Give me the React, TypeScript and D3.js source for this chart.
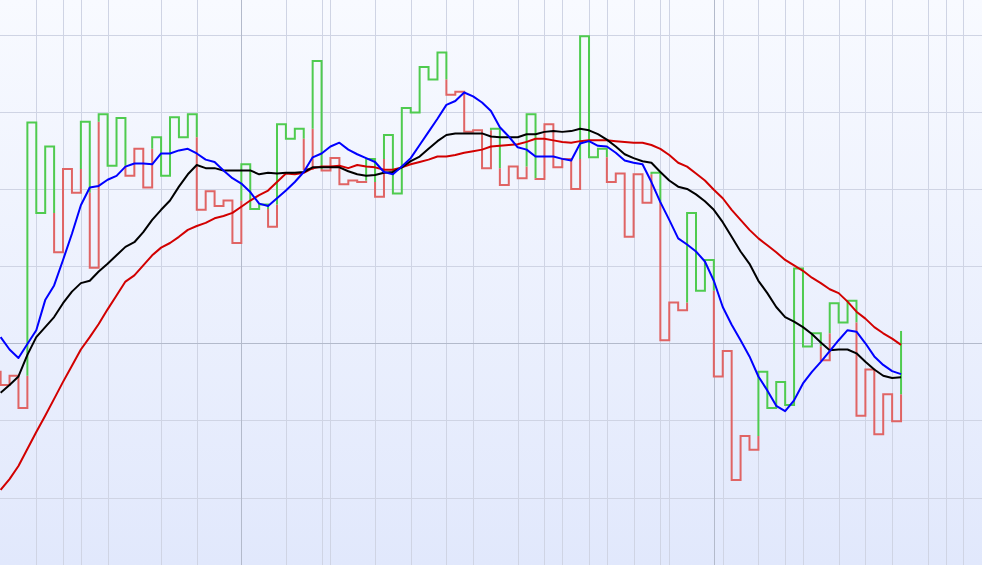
import React, { useMemo } from 'react';
import * as d3 from 'd3';

const WIDTH = 982;
const HEIGHT = 565;

// Kagi reversal levels, one per column (index 0..101); kagiStart is the level before column 0
const kagiStart = 96.3;
const kagiLevels = [
  94.6, 95.8, 91.6, 128.6, 116.9, 125.5, 111.8, 122.6, 119.5, 128.7,
  109.8, 129.7, 123.0, 129.2, 121.7, 125.2, 120.2, 126.7, 121.7, 129.3,
  126.7, 129.7, 117.3, 119.7, 117.8, 118.5, 113.0, 123.2, 117.4, 118.0,
  115.1, 128.4, 126.5, 127.8, 122.6, 136.6, 122.4, 124.0, 120.6, 121.1,
  120.9, 123.9, 119.0, 127.0, 119.4, 130.5, 129.9, 135.8, 134.2, 137.7,
  132.2, 132.6, 127.4, 127.6, 122.7, 127.8, 120.5, 122.9, 121.4, 129.7,
  121.3, 128.4, 122.8, 123.9, 120.0, 139.8, 124.1, 125.2, 120.9, 122.0,
  113.8, 121.9, 118.2, 122.1, 100.4, 105.3, 104.3, 116.9, 106.8, 110.8,
  95.7, 99.0, 82.3, 88.0, 86.2, 96.3, 91.6, 95.0, 92.0, 109.7,
  99.6, 101.3, 97.8, 105.2, 102.7, 105.5, 90.6, 96.6, 88.2, 93.4,
  89.9, 101.6,
];

// moving averages (blue = fast, black = mid, red = slow)
const maFast = [
  100.8, 99.2, 98.1, 99.9, 101.7, 105.6, 107.5, 110.8, 114.2, 117.9,
  120.2, 120.4, 121.2, 121.7, 122.9, 123.3, 123.3, 123.2, 124.6, 124.6,
  125.0, 125.2, 124.6, 123.8, 123.5, 122.4, 121.4, 120.7, 119.6, 118.1,
  117.8, 118.8, 119.8, 120.9, 122.2, 124.1, 124.6, 125.5, 126.0, 125.1,
  124.5, 124.0, 123.5, 122.2, 121.9, 122.9, 124.0, 125.7, 127.4, 129.1,
  130.9, 131.4, 132.5, 132.0, 131.2, 130.1, 128.0, 126.8, 125.4, 125.1,
  124.2, 124.2, 124.2, 123.9, 123.7, 125.9, 126.2, 125.6, 125.5, 124.7,
  123.7, 123.4, 123.2, 120.9, 118.3, 116.0, 113.6, 112.8, 111.9, 110.6,
  108.1, 104.7, 102.4, 100.4, 98.3, 95.7, 93.9, 91.9, 91.2, 92.6,
  94.8, 96.3, 97.6, 99.0, 100.4, 101.7, 101.5, 100.0, 98.3, 97.2,
  96.4, 96.0,
];
const maMid = [
  93.6, 94.6, 95.7, 98.5, 100.8, 102.1, 103.4, 105.2, 106.7, 107.8,
  108.1, 109.3, 110.3, 111.4, 112.5, 113.1, 114.4, 116.0, 117.3, 118.5,
  120.3, 121.9, 123.1, 122.7, 122.7, 122.4, 122.4, 122.4, 122.4, 121.9,
  122.1, 122.0, 122.1, 122.1, 122.2, 122.8, 122.8, 122.8, 122.8, 122.3,
  121.9, 121.7, 121.8, 122.1, 122.2, 122.8, 123.6, 124.2, 125.2, 126.2,
  127.0, 127.2, 127.2, 127.2, 127.2, 126.8, 126.7, 126.7, 126.7, 127.1,
  127.1, 127.4, 127.5, 127.4, 127.5, 127.8, 127.6, 127.1, 126.4, 125.5,
  124.5, 124.0, 123.6, 123.4, 122.2, 121.1, 120.3, 120.0, 119.3, 118.4,
  117.3, 115.7, 113.8, 111.9, 110.3, 108.1, 106.5, 104.7, 103.4, 102.8,
  102.1, 101.2, 100.1, 99.1, 99.2, 99.2, 98.7, 97.6, 96.6, 95.8,
  95.5, 95.6,
];
const maSlow = [
  81.0, 82.4, 84.1, 86.3, 88.5, 90.6, 92.8, 95.0, 97.1, 99.2,
  100.8, 102.5, 104.4, 106.2, 108.0, 108.8, 110.1, 111.4, 112.4, 113.0,
  113.8, 114.7, 115.2, 115.6, 116.2, 116.5, 116.9, 117.7, 118.5, 119.2,
  119.8, 120.9, 122.0, 121.9, 122.1, 122.7, 122.9, 122.9, 123.0, 122.7,
  123.1, 122.9, 122.8, 122.5, 122.5, 122.8, 123.2, 123.5, 123.8, 124.2,
  124.2, 124.4, 124.7, 124.9, 125.1, 125.5, 125.6, 125.7, 125.8, 126.1,
  126.5, 126.5, 126.3, 126.1, 126.0, 126.2, 126.3, 126.3, 126.3, 126.2,
  126.1, 126.0, 126.0, 125.7, 125.2, 124.4, 123.4, 122.9, 122.0, 121.1,
  119.9, 118.8, 117.3, 116.0, 114.7, 113.6, 112.7, 111.8, 110.8, 110.1,
  109.4, 108.5, 107.8, 107.0, 106.5, 105.4, 104.1, 103.2, 102.1, 101.3,
  100.6, 99.8,
];

// grid lines (column index for vertical, value for horizontal)
const gridX = [4, 7, 9, 12, 18, 22, 32, 36, 37, 42, 46, 50, 53, 58, 61, 63, 66, 68, 71, 74, 75,
  81, 85, 88, 90, 94, 97, 100, 104, 106, 108];
const gridXMajor = [27, 80];
const gridY = [80, 90, 110, 120, 130, 140];
const gridYMajor = [100];

const UP_COLOR = '#4fcb4f';
const DOWN_COLOR = '#e06464';

type Run = { up: boolean; pts: Array<[number, number]> };

// split the kagi line into runs of one colour (yang = green, yin = red)
function buildKagiRuns(start: number, levels: number[]): Run[] {
  const runs: Run[] = [];
  let up = false;
  let lastHigh = start;
  let lastLow = -Infinity;
  let prev = start;
  let cur: Run = { up, pts: [[-1, start], [0, start]] };
  levels.forEach((v, k) => {
    if (v > prev) {
      if (!up && v > lastHigh) {
        cur.pts.push([k, lastHigh]);
        runs.push(cur);
        up = true;
        cur = { up, pts: [[k, lastHigh]] };
      }
      lastHigh = v;
    } else {
      if (up && v < lastLow) {
        cur.pts.push([k, lastLow]);
        runs.push(cur);
        up = false;
        cur = { up, pts: [[k, lastLow]] };
      }
      lastLow = v;
    }
    cur.pts.push([k, v]);
    if (k < levels.length - 1) cur.pts.push([k + 1, v]);
    prev = v;
  });
  runs.push(cur);
  return runs;
}

export default function App() {
  const x = useMemo(() => d3.scaleLinear().domain([-0.07, 110.08]).range([0, WIDTH]), []);
  const y = useMemo(() => d3.scaleLinear().domain([71.27, 144.49]).range([HEIGHT, 0]), []);

  const runs = useMemo(() => buildKagiRuns(kagiStart, kagiLevels), []);

  const runLine = d3.line<[number, number]>().x(d => x(d[0])).y(d => y(d[1]));
  const maLine = d3.line<number>().x((_, i) => x(i)).y(d => y(d));

  const px = (v: number) => Math.round(v) + 0.5;

  return (
    <div style={{ position: 'fixed', left: 0, top: 0, width: WIDTH, height: HEIGHT }}>
      <svg width={WIDTH} height={HEIGHT} style={{ display: 'block' }}>
        <defs>
          <linearGradient id="bg" x1="0" x2="0" y1="0" y2="1">
            <stop offset="0%" stopColor="#f8faff" />
            <stop offset="100%" stopColor="#e1e8fc" />
          </linearGradient>
          <clipPath id="plot">
            <rect x={0} y={0} width={WIDTH} height={HEIGHT} />
          </clipPath>
        </defs>

        <rect x={0} y={0} width={WIDTH} height={HEIGHT} fill="url(#bg)" />

        {/* grid */}
        <g shapeRendering="crispEdges">
          {gridX.map(k => (
            <line key={`gx-${k}`} x1={px(x(k))} x2={px(x(k))} y1={0} y2={HEIGHT} stroke="#cfd4e4" strokeWidth={1} />
          ))}
          {gridY.map(v => (
            <line key={`gy-${v}`} x1={0} x2={WIDTH} y1={px(y(v))} y2={px(y(v))} stroke="#cfd4e4" strokeWidth={1} />
          ))}
          {gridXMajor.map(k => (
            <line key={`gxm-${k}`} x1={px(x(k))} x2={px(x(k))} y1={0} y2={HEIGHT} stroke="#b3bacb" strokeWidth={1} />
          ))}
          {gridYMajor.map(v => (
            <line key={`gym-${v}`} x1={0} x2={WIDTH} y1={px(y(v))} y2={px(y(v))} stroke="#b3bacb" strokeWidth={1} />
          ))}
        </g>

        <g clipPath="url(#plot)">
          {/* kagi line */}
          {runs.map((r, i) => (
            <path
              key={`run-${i}`}
              d={runLine(r.pts) || ''}
              fill="none"
              stroke={r.up ? UP_COLOR : DOWN_COLOR}
              strokeWidth={2}
              strokeLinejoin="miter"
            />
          ))}

          {/* moving averages */}
          <path d={maLine(maSlow) || ''} fill="none" stroke="#d20000" strokeWidth={2} strokeLinejoin="round" />
          <path d={maLine(maMid) || ''} fill="none" stroke="#000000" strokeWidth={2} strokeLinejoin="round" />
          <path d={maLine(maFast) || ''} fill="none" stroke="#0000ff" strokeWidth={2} strokeLinejoin="round" />
        </g>
      </svg>
    </div>
  );
}
